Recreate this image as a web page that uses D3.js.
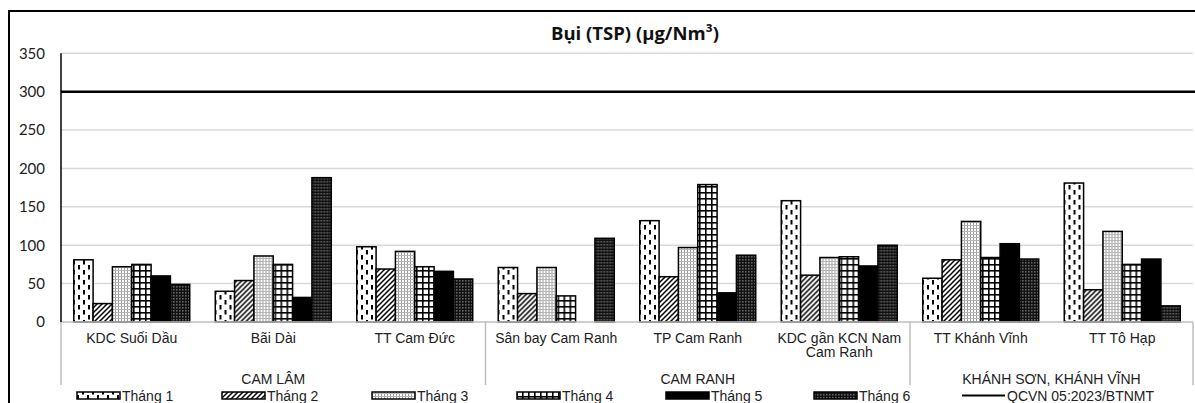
<!DOCTYPE html>
<html>
<head>
<meta charset="utf-8">
<script src="https://cdn.jsdelivr.net/npm/d3@7"></script>
<style>
  html, body { margin: 0; padding: 0; background: #fff; }
  svg { display: block; }
  .tick text { font-family: Lato, "Open Sans", sans-serif; }
</style>
</head>
<body>
<svg id="chart" width="1195" height="403"></svg>
<script>
// Monitoring stations, grouped by district
const stations = ["KDC Suối Dầu", "Bãi Dài", "TT Cam Đức", "Sân bay Cam Ranh", "TP Cam Ranh",
                  "KDC gần KCN Nam Cam Ranh", "TT Khánh Vĩnh", "TT Tô Hạp"];
const stationLines = [["KDC Suối Dầu"], ["Bãi Dài"], ["TT Cam Đức"], ["Sân bay Cam Ranh"], ["TP Cam Ranh"],
                      ["KDC gần KCN Nam", "Cam Ranh"], ["TT Khánh Vĩnh"], ["TT Tô Hạp"]];
const districts = ["CAM LÂM", "CAM RANH", "KHÁNH SƠN, KHÁNH VĨNH"];
const districtSpan = [3, 3, 2];
const months = ["Tháng 1", "Tháng 2", "Tháng 3", "Tháng 4", "Tháng 5", "Tháng 6"];

// TSP concentration per month, one entry per station (µg/Nm³)
const thang1 = [81, 40, 98, 71, 132, 158, 57, 181];
const thang2 = [24, 54, 69, 37, 59, 61, 81, 42];
const thang3 = [72, 86, 92, 71, 97, 84, 131, 118];
const thang4 = [75, 75, 72, 34, 179, 85, 84, 75];
const thang5 = [60, 32, 66, 0, 38, 73, 102, 82];
const thang6 = [49, 188, 56, 109, 87, 100, 82, 21];
const series = [thang1, thang2, thang3, thang4, thang5, thang6];

// National standard limit
const limitLabel = "QCVN 05:2023/BTNMT";
const limitValue = 300;

const yTicks = [0, 50, 100, 150, 200, 250, 300, 350];
const title = "Bụi (TSP) (µg/Nm³)";

const svg = d3.select("#chart");
const margin = { left: 61, right: 1193, top: 53.3, bottom: 322 };

// ---- fill patterns for the six months ----
const defs = svg.append("defs");

// month 1: white with staggered vertical dashes
let p = defs.append("pattern").attr("id", "pat0").attr("patternUnits", "userSpaceOnUse")
  .attr("width", 10).attr("height", 10);
p.append("rect").attr("width", 10).attr("height", 10).attr("fill", "#fff");
p.append("rect").attr("x", 2).attr("y", 0).attr("width", 2).attr("height", 4.5).attr("fill", "#000");
p.append("rect").attr("x", 7).attr("y", 5).attr("width", 2).attr("height", 4.5).attr("fill", "#000");

// month 2: wide upward diagonal
p = defs.append("pattern").attr("id", "pat1").attr("patternUnits", "userSpaceOnUse")
  .attr("width", 5).attr("height", 5);
p.append("rect").attr("width", 5).attr("height", 5).attr("fill", "#fff");
p.append("path").attr("d", "M-1,6 L6,-1 M-1,1 L1,-1 M4,6 L6,4")
  .attr("stroke", "#000").attr("stroke-width", 1.5);

// month 3: fine light dotted grid
p = defs.append("pattern").attr("id", "pat2").attr("patternUnits", "userSpaceOnUse")
  .attr("width", 3).attr("height", 3);
p.append("rect").attr("width", 3).attr("height", 3).attr("fill", "#fff");
p.append("rect").attr("x", 0).attr("y", 0).attr("width", 1).attr("height", 3).attr("fill", "#9a9a9a");
p.append("rect").attr("x", 0).attr("y", 0).attr("width", 3).attr("height", 1).attr("fill", "#b5b5b5");

// month 4: large grid
p = defs.append("pattern").attr("id", "pat3").attr("patternUnits", "userSpaceOnUse")
  .attr("width", 6).attr("height", 6);
p.append("rect").attr("width", 6).attr("height", 6).attr("fill", "#fff");
p.append("rect").attr("x", 0).attr("y", 0).attr("width", 1.6).attr("height", 6).attr("fill", "#000");
p.append("rect").attr("x", 0).attr("y", 0).attr("width", 6).attr("height", 1.6).attr("fill", "#000");

// month 5: solid black
p = defs.append("pattern").attr("id", "pat4").attr("patternUnits", "userSpaceOnUse")
  .attr("width", 4).attr("height", 4);
p.append("rect").attr("width", 4).attr("height", 4).attr("fill", "#000");

// month 6: dense dark grid
p = defs.append("pattern").attr("id", "pat5").attr("patternUnits", "userSpaceOnUse")
  .attr("width", 3).attr("height", 3);
p.append("rect").attr("width", 3).attr("height", 3).attr("fill", "#111");
p.append("rect").attr("x", 1.3).attr("y", 1.3).attr("width", 1.1).attr("height", 1.1).attr("fill", "#bbb");

// ---- scales ----
const x0 = d3.scaleBand().domain(stations).range([margin.left, margin.right]).paddingInner(0).paddingOuter(0);
const x1 = d3.scaleBand().domain(months).range([0, x0.bandwidth()]).paddingInner(0).paddingOuter(0.66);
const y = d3.scaleLinear().domain([0, 350]).range([margin.bottom, margin.top]);

// outer frame
svg.append("rect").attr("x", 9).attr("y", 11).attr("width", 1200).attr("height", 400)
  .attr("fill", "none").attr("stroke", "#000").attr("stroke-width", 2);

// title
svg.append("text").attr("x", 635).attr("y", 40).attr("text-anchor", "middle")
  .attr("font-family", "'Open Sans', Lato, sans-serif").attr("font-weight", "bold")
  .attr("font-size", 18.5).attr("fill", "#111").text(title);

// gridlines
svg.append("g").selectAll("line").data(yTicks.filter(d => d > 0)).join("line")
  .attr("x1", margin.left).attr("x2", margin.right)
  .attr("y1", d => y(d)).attr("y2", d => y(d))
  .attr("stroke", "#d9d9d9").attr("stroke-width", 1.5);

// y axis labels
const yAxis = svg.append("g").attr("transform", `translate(${margin.left},0)`)
  .call(d3.axisLeft(y).tickValues(yTicks).tickSize(0).tickPadding(16));
yAxis.select(".domain").remove();
yAxis.selectAll("text").attr("font-size", 15).attr("fill", "#222");

// bars
const groups = svg.append("g").selectAll("g").data(stations).join("g")
  .attr("transform", d => `translate(${x0(d)},0)`);
groups.selectAll("rect")
  .data((s, i) => months.map((m, k) => ({ m, k, v: series[k][i] })).filter(d => d.v > 0))
  .join("rect")
  .attr("x", d => x1(d.m))
  .attr("y", d => y(d.v))
  .attr("width", x1.bandwidth())
  .attr("height", d => y(0) - y(d.v))
  .attr("fill", d => `url(#pat${d.k})`)
  .attr("stroke", "#000").attr("stroke-width", 1.5);

// x axis base line
svg.append("line").attr("x1", margin.left).attr("x2", margin.right)
  .attr("y1", y(0)).attr("y2", y(0)).attr("stroke", "#bfbfbf").attr("stroke-width", 1.5);

// y axis line
svg.append("line").attr("x1", margin.left).attr("x2", margin.left)
  .attr("y1", y(350)).attr("y2", y(0)).attr("stroke", "#000").attr("stroke-width", 1.5);

// limit line
svg.append("line").attr("x1", margin.left).attr("x2", 1195)
  .attr("y1", y(limitValue)).attr("y2", y(limitValue))
  .attr("stroke", "#000").attr("stroke-width", 2.5);

// station labels
const labelFont = "'Liberation Sans', Arial, sans-serif";
stations.forEach((s, i) => {
  const t = svg.append("text").attr("x", x0(s) + x0.bandwidth() / 2).attr("y", 343)
    .attr("text-anchor", "middle").attr("font-family", labelFont).attr("font-size", 14).attr("fill", "#222");
  stationLines[i].forEach((ln, j) => t.append("tspan").attr("x", x0(s) + x0.bandwidth() / 2)
    .attr("dy", j === 0 ? 0 : 14).text(ln));
});

// district separators and labels
let start = 0;
const sepXs = [x0(stations[0])];
districts.forEach((d, i) => {
  const first = stations[start];
  const last = stations[start + districtSpan[i] - 1];
  const xa = x0(first), xb = x0(last) + x0.bandwidth();
  sepXs.push(xb);
  svg.append("text").attr("x", (xa + xb) / 2).attr("y", 384).attr("text-anchor", "middle")
    .attr("font-family", labelFont).attr("font-size", 14).attr("fill", "#222").text(d);
  start += districtSpan[i];
});
svg.append("g").selectAll("line").data(sepXs).join("line")
  .attr("x1", d => d).attr("x2", d => d).attr("y1", y(0)).attr("y2", 385)
  .attr("stroke", "#bfbfbf").attr("stroke-width", 1.5);

// legend
const legendX = [77, 222, 372, 517, 666, 814];
const legend = svg.append("g");
months.forEach((m, k) => {
  legend.append("rect").attr("x", legendX[k]).attr("y", 392).attr("width", 43).attr("height", 7)
    .attr("fill", `url(#pat${k})`).attr("stroke", "#000").attr("stroke-width", 1.5);
  legend.append("text").attr("x", legendX[k] + 45).attr("y", 400.5)
    .attr("font-family", labelFont).attr("font-size", 14).attr("fill", "#222").text(m);
});
legend.append("line").attr("x1", 962).attr("x2", 1005).attr("y1", 395.5).attr("y2", 395.5)
  .attr("stroke", "#000").attr("stroke-width", 2);
legend.append("text").attr("x", 1007).attr("y", 400.5)
  .attr("font-family", labelFont).attr("font-size", 14).attr("fill", "#222").text(limitLabel);
</script>
</body>
</html>
